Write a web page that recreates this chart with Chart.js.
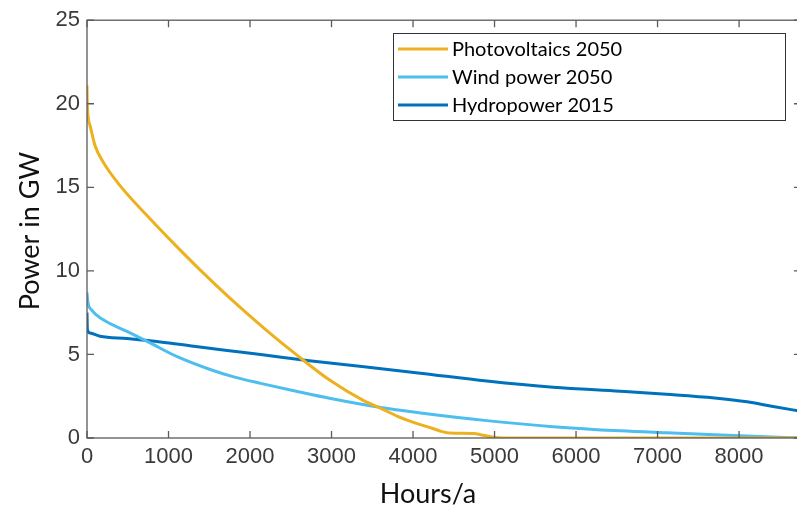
<!DOCTYPE html>
<html>
<head>
<meta charset="utf-8">
<script src="https://cdn.jsdelivr.net/npm/chart.js@4.4.1/dist/chart.umd.min.js"></script>
<style>
  html, body { margin: 0; padding: 0; background: #fff; overflow: hidden; width: 797px; height: 507px; }
  #wrap { width: 806px; height: 507px; }
</style>
</head>
<body>
<div id="wrap"><canvas id="chart1" width="806" height="507"></canvas></div>
<script>
// duration curves
var seriesNames = ["Photovoltaics 2050", "Wind power 2050", "Hydropower 2015"];
var seriesColors = ["#EDB120", "#4DBEEE", "#0072BD"];

var pvHours  = [0, 4, 37, 98, 200, 405, 733, 1060, 1387, 1760, 2170, 2580, 2990, 3400, 3605, 3810, 4090, 4225, 4330, 4450, 4745, 4830, 4990, 5100, 8760];
var pvValues = [21.1, 19.9, 18.7, 17.5, 16.5, 15.1, 13.33, 11.66, 10.06, 8.34, 6.58, 4.94, 3.42, 2.22, 1.77, 1.3, 0.8, 0.6, 0.42, 0.3, 0.27, 0.2, 0.04, 0, 0];

var windHours  = [0, 10, 55, 200, 490, 780, 1100, 1510, 1800, 2130, 2580, 2990, 3605, 4090, 4905, 5720, 6540, 7110, 7930, 8760];
var windValues = [8.7, 8.15, 7.67, 7.07, 6.38, 5.68, 4.88, 4.1, 3.66, 3.27, 2.78, 2.36, 1.82, 1.5, 1.04, 0.68, 0.43, 0.31, 0.15, 0.0];

var hydroHours  = [0, 5, 37, 160, 490, 900, 1310, 1720, 2130, 2700, 3400, 4090, 4905, 5720, 6540, 7110, 7700, 8100, 8400, 8760];
var hydroValues = [7.5, 6.48, 6.28, 6.09, 5.95, 5.75, 5.49, 5.24, 5.0, 4.64, 4.26, 3.88, 3.41, 3.04, 2.8, 2.62, 2.4, 2.17, 1.9, 1.6];

var xTicks = [0, 1000, 2000, 3000, 4000, 5000, 6000, 7000, 8000];
var yTicks = [0, 5, 10, 15, 20, 25];

function pairs(xs, ys) {
    var out = [];
    for (var i = 0; i < xs.length; i++) out.push({x: xs[i], y: ys[i]});
    return out;
}

var allData = [pairs(pvHours, pvValues), pairs(windHours, windValues), pairs(hydroHours, hydroValues)];

// matlab style box, inward ticks, legend and axis titles
var matlabBox = {
    id: 'matlabBox',
    afterDraw: function(chart) {
        var ctx = chart.ctx, a = chart.chartArea;
        var xs = chart.scales.x, ys = chart.scales.y;
        ctx.save();
        ctx.strokeStyle = '#5a5a5a';
        ctx.lineWidth = 1.3;
        ctx.strokeRect(a.left, a.top, a.right - a.left, a.bottom - a.top);
        ctx.beginPath();
        xs.ticks.forEach(function(t) {
            var px = xs.getPixelForValue(t.value);
            ctx.moveTo(px, a.bottom); ctx.lineTo(px, a.bottom - 7);
            ctx.moveTo(px, a.top); ctx.lineTo(px, a.top + 7);
        });
        ys.ticks.forEach(function(t) {
            var py = ys.getPixelForValue(t.value);
            ctx.moveTo(a.left, py); ctx.lineTo(a.left + 7, py);
            ctx.moveTo(a.right, py); ctx.lineTo(a.right - 7, py);
        });
        ctx.stroke();

        // legend
        ctx.fillStyle = '#fff';
        ctx.fillRect(393, 33, 393, 88);
        ctx.strokeStyle = '#333';
        ctx.lineWidth = 1;
        ctx.strokeRect(393.5, 33.5, 392, 87);
        ctx.font = '20px Lato';
        ctx.textBaseline = 'middle';
        chart.data.datasets.forEach(function(ds, i) {
            var y = 49 + i * 28;
            ctx.strokeStyle = ds.borderColor;
            ctx.lineWidth = 3;
            ctx.beginPath();
            ctx.moveTo(398, y); ctx.lineTo(448, y);
            ctx.stroke();
            ctx.fillStyle = '#000';
            ctx.fillText(ds.label, 452, y + 1);
        });

        // axis titles
        ctx.fillStyle = '#111';
        ctx.font = '27px Lato';
        ctx.textAlign = 'center';
        ctx.textBaseline = 'alphabetic';
        ctx.fillText('Hours/a', 428, 503);
        ctx.translate(39, 231);
        ctx.rotate(-Math.PI / 2);
        ctx.fillText('Power in GW', 0, 0);
        ctx.restore();
    }
};

var compctx = document.getElementById('chart1').getContext('2d');
window.curveChart = new Chart(compctx, {
    type: 'line',
    data: {
        datasets: seriesNames.map(function(name, i) {
            return {
                label: name,
                data: allData[i],
                borderColor: seriesColors[i],
                borderWidth: 3,
                pointRadius: 0,
                fill: false,
                cubicInterpolationMode: 'monotone'
            };
        })
    },
    options: {
        responsive: false,
        animation: false,
        devicePixelRatio: 1,
        layout: { padding: { left: 0, right: 5, top: 17, bottom: 0 } },
        plugins: { legend: { display: false }, tooltip: { enabled: false } },
        scales: {
            x: {
                type: 'linear',
                min: 0,
                max: 8760,
                grid: { display: false, drawTicks: false },
                border: { display: false },
                afterBuildTicks: function(s) {
                    s.ticks = xTicks.map(function(v) { return {value: v}; });
                },
                afterFit: function(s) { s.height = 69; },
                ticks: {
                    autoSkip: false,
                    padding: 6,
                    color: '#3a3a3a',
                    font: { family: 'Liberation Sans', size: 22 },
                    maxRotation: 0,
                    minRotation: 0,
                    callback: function(v) { return String(v); }
                }
            },
            y: {
                min: 0,
                max: 25,
                grid: { display: false, drawTicks: false },
                border: { display: false },
                afterBuildTicks: function(s) {
                    s.ticks = yTicks.map(function(v) { return {value: v}; });
                },
                afterFit: function(s) { s.width = 87; },
                ticks: {
                    padding: 7,
                    color: '#3a3a3a',
                    font: { family: 'Liberation Sans', size: 22 },
                    callback: function(v) { return String(v); }
                }
            }
        }
    },
    plugins: [matlabBox]
});
</script>
</body>
</html>
